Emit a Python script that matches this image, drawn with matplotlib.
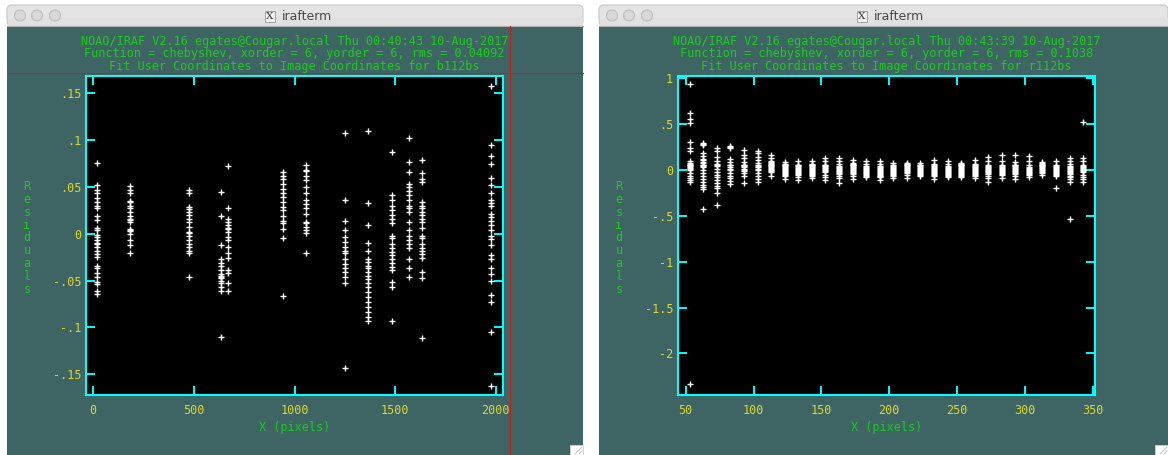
import matplotlib
matplotlib.use("Agg")
import matplotlib.pyplot as plt
from matplotlib.patches import Rectangle, FancyBboxPatch, Circle

plt.rcParams["font.family"] = ["DejaVu Sans Mono"]

W, H = 1168, 455
TEAL = "#3e6464"
CYAN = "#00ffff"
YELLOW = "#d9d92e"
GREEN = "#1ccc1c"

# ---- left window (b112bs) ----
b_header = [
    "NOAO/IRAF V2.16 egates@Cougar.local Thu 00:40:43 10-Aug-2017",
    "Function = chebyshev, xorder = 6, yorder = 6, rms = 0.04092",
    "Fit User Coordinates to Image Coordinates for b112bs",
]
b_xticks = [0, 500, 1000, 1500, 2000]
b_xlabels = ["0", "500", "1000", "1500", "2000"]
b_yticks = [-0.15, -0.1, -0.05, 0, 0.05, 0.1, 0.15]
b_ylabels = ["-.15", "-.1", "-.05", "0", ".05", ".1", ".15"]

b_x = [20, 181, 475, 634, 667, 945, 1055, 1253, 1367, 1482, 1568, 1634, 1975]
b_res_0020 = [0.076, 0.052, 0.047, 0.043, 0.038, 0.034, 0.030, 0.027, 0.019, 0.015,
              0.006, 0.004, -0.001, -0.004, -0.007, -0.010, -0.011, -0.014, -0.019,
              -0.022, -0.025, -0.034, -0.037, -0.042, -0.046, -0.052, -0.054, -0.061, -0.064]
b_res_0181 = [0.051, 0.047, 0.043, 0.035, 0.034, 0.030, 0.027, 0.023, 0.019, 0.016,
              0.015, 0.013, 0.005, 0.004, 0.003, 0.0, -0.007, -0.012, -0.021]
b_res_0475 = [0.047, 0.043, 0.029, 0.026, 0.023, 0.020, 0.016, 0.013, 0.007, 0.002,
              0.001, -0.002, -0.007, -0.011, -0.014, -0.018, -0.021, -0.046]
b_res_0634 = [0.045, 0.019, -0.012, -0.027, -0.031, -0.035, -0.039, -0.043, -0.045,
              -0.046, -0.047, -0.050, -0.053, -0.057, -0.061, -0.110]
b_res_0667 = [0.072, 0.027, 0.016, 0.013, 0.009, 0.006, 0.005, 0.002, -0.004, -0.007,
              -0.014, -0.021, -0.026, -0.039, -0.042, -0.053, -0.061]
b_res_0945 = [0.066, 0.062, 0.058, 0.053, 0.048, 0.043, 0.039, 0.034, 0.029, 0.025,
              0.019, 0.014, 0.011, 0.005, -0.005, -0.067]
b_res_1055 = [0.073, 0.068, 0.067, 0.062, 0.057, 0.050, 0.043, 0.036, 0.032, 0.027,
              0.021, 0.013, 0.011, 0.007, 0.004, 0.001, -0.021]
b_res_1253 = [0.108, 0.036, 0.014, 0.004, -0.004, -0.009, -0.014, -0.018, -0.021,
              -0.027, -0.032, -0.037, -0.041, -0.046, -0.053, -0.143]
b_res_1367 = [0.110, 0.033, 0.009, -0.010, -0.019, -0.027, -0.030, -0.034, -0.037,
              -0.041, -0.045, -0.048, -0.053, -0.057, -0.062, -0.068, -0.073, -0.078,
              -0.084, -0.089, -0.093]
b_res_1482 = [0.087, 0.041, 0.036, 0.030, 0.025, 0.020, 0.016, 0.011, -0.002, -0.005,
              -0.011, -0.015, -0.020, -0.023, -0.027, -0.031, -0.036, -0.039, -0.052,
              -0.057, -0.093]
b_res_1568 = [0.102, 0.077, 0.066, 0.053, 0.050, 0.046, 0.041, 0.036, 0.030, 0.027,
              0.023, 0.013, 0.004, -0.002, -0.007, -0.011, -0.015, -0.027, -0.037, -0.046]
b_res_1634 = [0.079, 0.065, 0.058, 0.055, 0.034, 0.030, 0.027, 0.023, 0.020, 0.016,
              0.013, 0.006, -0.002, -0.005, -0.011, -0.015, -0.019, -0.022, -0.026,
              -0.041, -0.047, -0.111]
b_res_1975 = [0.158, 0.095, 0.083, 0.075, 0.059, 0.052, 0.043, 0.036, 0.033, 0.030,
              0.021, 0.018, 0.014, 0.009, 0.004, -0.002, -0.006, -0.012, -0.023, -0.027,
              -0.037, -0.043, -0.050, -0.066, -0.073, -0.105, -0.163]
b_res = [b_res_0020, b_res_0181, b_res_0475, b_res_0634, b_res_0667, b_res_0945,
         b_res_1055, b_res_1253, b_res_1367, b_res_1482, b_res_1568, b_res_1634, b_res_1975]

# ---- right window (r112bs) ----
r_header = [
    "NOAO/IRAF V2.16 egates@Cougar.local Thu 00:43:39 10-Aug-2017",
    "Function = chebyshev, xorder = 6, yorder = 6, rms = 0.1038",
    "Fit User Coordinates to Image Coordinates for r112bs",
]
r_xticks = [50, 100, 150, 200, 250, 300, 350]
r_xlabels = ["50", "100", "150", "200", "250", "300", "350"]
r_yticks = [-2, -1.5, -1, -0.5, 0, 0.5, 1]
r_ylabels = ["-2", "-1.5", "-1", "-.5", "0", ".5", "1"]

r_x = [53, 63, 73, 83, 93, 103, 113, 123, 133, 143, 153, 163, 173, 183, 193,
       203, 213, 223, 233, 243, 253, 263, 273, 283, 293, 303, 313, 323, 333, 343]
r_res_053 = [0.94, 0.62, 0.56, 0.51, 0.30, 0.24, 0.21, 0.10, 0.08, 0.07, 0.06, 0.05,
             0.04, 0.03, 0.02, 0.01, 0.0, -0.03, -0.07, -0.09, -0.11, -0.13, -2.33]
r_res_063 = [0.29, 0.28, 0.27, 0.18, 0.15, 0.12, 0.11, 0.09, 0.08, 0.06, 0.05, 0.04,
             0.03, 0.0, -0.03, -0.06, -0.10, -0.13, -0.16, -0.19, -0.21, -0.42]
r_res_073 = [0.24, 0.21, 0.14, 0.10, 0.07, 0.05, 0.04, 0.01, -0.02, -0.05, -0.08,
             -0.11, -0.14, -0.17, -0.20, -0.25, -0.38]
r_res_083 = [0.26, 0.25, 0.24, 0.12, 0.09, 0.06, 0.05, 0.03, 0.01, 0.0, -0.03, -0.06,
             -0.09, -0.12, -0.15]
r_res_093 = [0.22, 0.16, 0.13, 0.09, 0.06, 0.05, 0.04, 0.03, 0.01, 0.0, -0.01, -0.03,
             -0.06, -0.14]
r_res_103 = [0.21, 0.18, 0.14, 0.11, 0.08, 0.05, 0.04, 0.03, 0.01, 0.0, -0.03, -0.06,
             -0.10, -0.13]
r_res_113 = [0.16, 0.13, 0.10, 0.09, 0.08, 0.07, 0.06, 0.05, 0.04, 0.03, 0.02, 0.01,
             0.0, -0.01, -0.02, -0.06]
r_res_123 = [0.09, 0.07, 0.06, 0.05, 0.04, 0.03, 0.02, 0.01, 0.0, -0.01, -0.02, -0.03,
             -0.04, -0.05, -0.07, -0.10]
r_res_133 = [0.10, 0.06, 0.05, 0.04, 0.03, 0.02, 0.01, 0.0, -0.01, -0.02, -0.03,
             -0.04, -0.05, -0.08, -0.11]
r_res_143 = [0.10, 0.07, 0.06, 0.05, 0.04, 0.03, 0.02, 0.01, 0.0, -0.01, -0.02,
             -0.03, -0.04, -0.05, -0.07, -0.09]
r_res_153 = [0.13, 0.10, 0.06, 0.05, 0.04, 0.03, 0.02, 0.01, 0.0, -0.01, -0.02,
             -0.05, -0.08, -0.11]
r_res_163 = [0.13, 0.10, 0.07, 0.04, 0.03, 0.02, 0.01, 0.0, -0.01, -0.02, -0.03,
             -0.04, -0.06, -0.09, -0.14]
r_res_173 = [0.11, 0.08, 0.07, 0.06, 0.05, 0.04, 0.03, 0.02, 0.01, 0.0, -0.01,
             -0.02, -0.03, -0.04, -0.07, -0.10]
r_res_183 = [0.10, 0.07, 0.04, 0.03, 0.02, 0.01, 0.0, -0.01, -0.02, -0.03, -0.04,
             -0.05, -0.06, -0.08]
r_res_193 = [0.10, 0.07, 0.04, 0.03, 0.02, 0.01, 0.0, -0.01, -0.02, -0.03, -0.04,
             -0.05, -0.06, -0.07, -0.08, -0.11]
r_res_203 = [0.08, 0.05, 0.04, 0.03, 0.02, 0.01, 0.0, -0.01, -0.02, -0.03, -0.04,
             -0.05, -0.06, -0.09]
r_res_213 = [0.08, 0.07, 0.06, 0.05, 0.04, 0.03, 0.02, 0.01, 0.0, -0.01, -0.02,
             -0.03, -0.05, -0.09]
r_res_223 = [0.08, 0.06, 0.05, 0.04, 0.03, 0.02, 0.01, 0.0, -0.01, -0.02, -0.03,
             -0.04, -0.05, -0.07]
r_res_233 = [0.11, 0.07, 0.05, 0.04, 0.03, 0.02, 0.01, 0.0, -0.01, -0.02, -0.03,
             -0.04, -0.05, -0.07, -0.10]
r_res_243 = [0.10, 0.07, 0.04, 0.03, 0.02, 0.01, 0.0, -0.01, -0.02, -0.03, -0.04,
             -0.05, -0.06, -0.08]
r_res_253 = [0.08, 0.07, 0.06, 0.05, 0.04, 0.03, 0.02, 0.01, 0.0, -0.01, -0.02,
             -0.03, -0.04, -0.05, -0.06, -0.08]
r_res_263 = [0.11, 0.07, 0.05, 0.04, 0.03, 0.02, 0.01, 0.0, -0.01, -0.02, -0.03,
             -0.04, -0.05, -0.07, -0.09]
r_res_273 = [0.14, 0.10, 0.05, 0.04, 0.03, 0.02, 0.01, 0.0, -0.01, -0.02, -0.03,
             -0.04, -0.06, -0.09, -0.13]
r_res_283 = [0.16, 0.10, 0.05, 0.04, 0.03, 0.02, 0.01, 0.0, -0.01, -0.02, -0.03,
             -0.04, -0.05, -0.09]
r_res_293 = [0.16, 0.09, 0.06, 0.05, 0.04, 0.03, 0.02, 0.01, 0.0, -0.01, -0.02,
             -0.03, -0.04, -0.06, -0.10]
r_res_303 = [0.15, 0.10, 0.06, 0.03, 0.02, 0.01, 0.0, -0.01, -0.02, -0.03, -0.04,
             -0.05, -0.08]
r_res_313 = [0.09, 0.08, 0.07, 0.06, 0.05, 0.04, 0.03, 0.02, 0.01, 0.0, -0.01,
             -0.02, -0.03, -0.05]
r_res_323 = [0.10, 0.06, 0.04, 0.03, 0.02, 0.01, 0.0, -0.01, -0.02, -0.03, -0.04,
             -0.05, -0.06, -0.20]
r_res_333 = [0.13, 0.10, 0.07, 0.04, 0.03, 0.02, 0.01, 0.0, -0.01, -0.02, -0.03,
             -0.04, -0.06, -0.08, -0.10, -0.13, -0.53]
r_res_343 = [0.52, 0.13, 0.10, 0.06, 0.04, 0.03, 0.02, 0.01, 0.0, -0.01, -0.02,
             -0.05, -0.08, -0.10, -0.13]
r_res = [r_res_053, r_res_063, r_res_073, r_res_083, r_res_093, r_res_103, r_res_113,
         r_res_123, r_res_133, r_res_143, r_res_153, r_res_163, r_res_173, r_res_183,
         r_res_193, r_res_203, r_res_213, r_res_223, r_res_233, r_res_243, r_res_253,
         r_res_263, r_res_273, r_res_283, r_res_293, r_res_303, r_res_313, r_res_323,
         r_res_333, r_res_343]

fig = plt.figure(figsize=(W / 100, H / 100), dpi=100)
fig.patch.set_facecolor("white")

# pixel-space background layer for the two xgterm windows
bg = fig.add_axes([0, 0, 1, 1])
bg.set_xlim(0, W)
bg.set_ylim(H, 0)
bg.axis("off")


def window(x0, x1):
    bg.add_patch(Rectangle((x0, 26), x1 - x0, H - 26, fc=TEAL, ec="none"))
    bg.add_patch(FancyBboxPatch((x0, 5), x1 - x0, 21,
                                boxstyle="round,pad=0,rounding_size=5",
                                fc="#e4e4e4", ec="#c8c8c8", lw=0.8))
    bg.add_patch(Rectangle((x0 + 0.5, 18), x1 - x0 - 1, 8, fc="#e0e0e0", ec="none"))
    bg.plot([x0, x1], [26, 26], color="#b0b0b0", lw=0.8)
    for dx in (13, 30, 48):
        bg.add_patch(Circle((x0 + dx, 15.5), 5.5, fc="#d8d8d8", ec="#bdbdbd", lw=0.8))
    # resize grip
    bg.add_patch(Rectangle((x1 - 13, 445), 13, 10, fc="white", ec="#cfcfcf", lw=0.6))
    bg.plot([x1 - 8, x1 - 1], [454, 447], color="#b8b8b8", lw=0.6)
    bg.plot([x1 - 4, x1 - 1], [454, 451], color="#b8b8b8", lw=0.6)


def title_label(xc):
    bg.add_patch(Rectangle((xc - 5, 10.5), 10, 11, fc="#f2f2f2", ec="#9a9a9a", lw=0.6))
    bg.text(xc, 16.3, "X", family="DejaVu Serif", fontsize=7.5, color="#333333",
            ha="center", va="center")
    bg.text(xc + 12, 16, "irafterm", family="DejaVu Sans", fontsize=9,
            color="#4a4a4a", ha="left", va="center")


window(7, 583)
window(599, 1168)
title_label(270)
title_label(862)

# graphics cursor crosshair left in the first window
bg.plot([7, 583], [72.7, 72.7], color="#c02020", lw=0.8)
bg.plot([509.5, 509.5], [26, 455], color="#c02020", lw=0.8)


def iraf_panel(x0, x1, header, xs, res, xlim, ylim, xticks, xlabels, yticks, ylabels, ylab_x):
    top, bot = 76, 394.7
    ax = fig.add_axes([x0 / W, (H - bot) / H, (x1 - x0) / W, (bot - top) / H])
    ax.set_facecolor("black")
    for x, ys in zip(xs, res):
        ax.plot([x] * len(ys), ys, "+", color="white", ms=4.9, mew=1.0)
    ax.set_xlim(*xlim)
    ax.set_ylim(*ylim)
    ax.set_xticks(xticks)
    ax.set_xticklabels(xlabels)
    ax.set_yticks(yticks)
    ax.set_yticklabels(ylabels)
    for s in ax.spines.values():
        s.set_color(CYAN)
        s.set_linewidth(1.5)
    ax.tick_params(direction="in", length=6.5, width=1.4, color=CYAN,
                   top=True, right=True, labelcolor=YELLOW, labelsize=8.5)
    ax.tick_params(axis="x", pad=7)
    ax.tick_params(axis="y", pad=3.5)

    xc = (x0 + x1) / 2
    for y, line in zip((41.7, 53.5, 66.5), header):
        bg.text(xc, y, line, fontsize=8.5, color=GREEN, ha="center", va="center")
    bg.text(xc, 428, "X (pixels)", fontsize=8.5, color=GREEN, ha="center", va="center")
    for i, ch in enumerate("Residuals"):
        bg.text(ylab_x, 186.7 + i * 12.8, ch, fontsize=8.5, color=GREEN,
                ha="center", va="center")
    return ax


iraf_panel(86, 502.7, b_header, b_x, b_res, (-36, 2034), (-0.172, 0.1685),
           b_xticks, b_xlabels, b_yticks, b_ylabels, 27)
iraf_panel(678, 1094.7, r_header, r_x, r_res, (44.3, 351.5), (-2.45, 1.025),
           r_xticks, r_xlabels, r_yticks, r_ylabels, 619)

fig.savefig("out.png", dpi=100)
